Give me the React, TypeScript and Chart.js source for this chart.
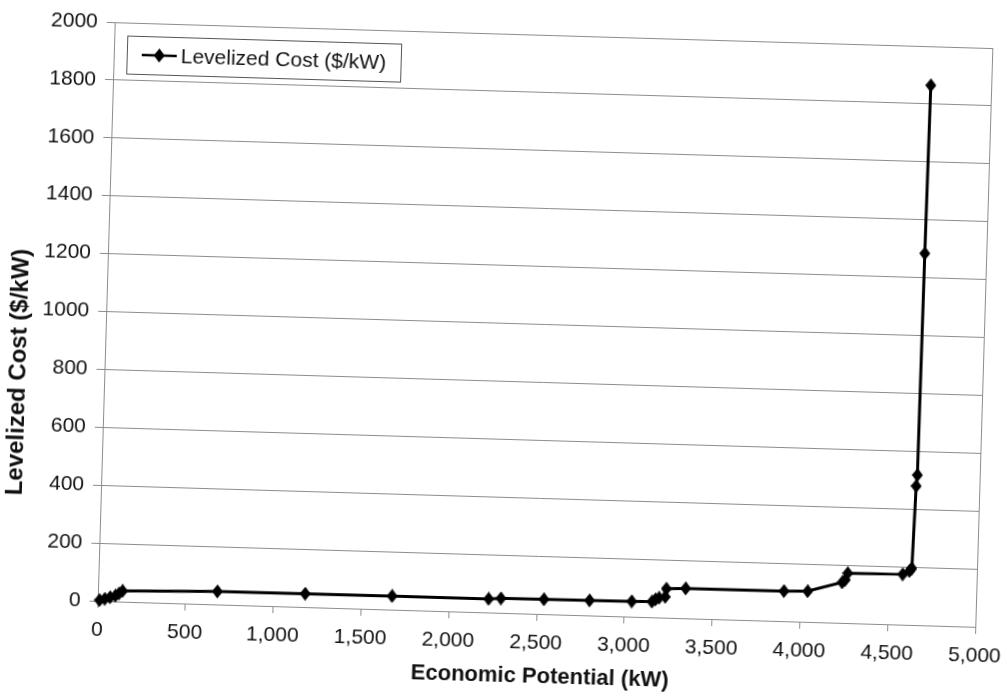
import React, { useEffect, useRef } from "react";
import { Chart, registerables } from "chart.js";

Chart.register(...registerables);

// ---- data ----
const seriesLabel = "Levelized Cost ($/kW)";
const potentialKW = [
  10, 40, 70, 100, 120, 140, 680, 1180, 1675, 2225, 2295, 2540, 2800, 3040,
  3155, 3175, 3195, 3230, 3235, 3345, 3905, 4040, 4235, 4252, 4265, 4578,
  4616, 4629, 4640, 4645, 4650, 4656,
];
const costPerKW = [
  3, 8, 14, 20, 28, 37, 45, 46, 47, 47, 50, 51, 52, 53,
  54, 62, 68, 72, 100, 103, 104, 106, 140, 149, 172, 174,
  186, 195, 480, 518, 1284, 1865,
];
const xTickValues = [0, 500, 1000, 1500, 2000, 2500, 3000, 3500, 4000, 4500, 5000];
const yTickValues = [0, 200, 400, 600, 800, 1000, 1200, 1400, 1600, 1800, 2000];
const xTitle = "Economic Potential (kW)";
const yTitle = "Levelized Cost ($/kW)";

// ---- styling ----
const FONT = "'Liberation Sans', Arial, sans-serif";
const GRID = "#8c8c8c";
const INK = "#111111";
const CANVAS_W = 1040;
const CANVAS_H = 696;

function makeDiamond(w: number, h: number): HTMLCanvasElement {
  const c = document.createElement("canvas");
  c.width = w;
  c.height = h;
  const g = c.getContext("2d")!;
  g.fillStyle = "#000";
  g.beginPath();
  g.moveTo(w / 2, 0);
  g.lineTo(w, h / 2);
  g.lineTo(w / 2, h);
  g.lineTo(0, h / 2);
  g.closePath();
  g.fill();
  return c;
}

export default function App() {
  const ref = useRef<HTMLCanvasElement | null>(null);

  useEffect(() => {
    if (!ref.current) return;
    const diamond = makeDiamond(11, 14);

    const decor = {
      id: "decor",
      afterDraw(chart: any) {
        const { ctx, chartArea: a } = chart;
        ctx.save();
        // right border of plot area
        ctx.strokeStyle = GRID;
        ctx.lineWidth = 1;
        ctx.beginPath();
        ctx.moveTo(Math.round(a.right) + 0.5, a.top);
        ctx.lineTo(Math.round(a.right) + 0.5, a.bottom);
        ctx.stroke();

        // legend box
        const bx = a.left + 13;
        const by = a.top + 13;
        const bw = 274;
        const bh = 38;
        ctx.fillStyle = "#fff";
        ctx.fillRect(bx, by, bw, bh);
        ctx.strokeStyle = "#555";
        ctx.lineWidth = 1;
        ctx.strokeRect(Math.round(bx) + 0.5, Math.round(by) + 0.5, bw, bh);
        const cy = by + bh / 2;
        ctx.strokeStyle = "#000";
        ctx.lineWidth = 2.5;
        ctx.beginPath();
        ctx.moveTo(bx + 15, cy);
        ctx.lineTo(bx + 50, cy);
        ctx.stroke();
        ctx.drawImage(diamond, bx + 32.5 - diamond.width / 2, cy - diamond.height / 2);
        ctx.fillStyle = INK;
        ctx.font = `21px ${FONT}`;
        ctx.textAlign = "left";
        ctx.textBaseline = "middle";
        ctx.fillText(chart.data.datasets[0].label, bx + 54, cy + 1);

        // axis titles
        ctx.font = `bold 22px ${FONT}`;
        ctx.textAlign = "center";
        ctx.textBaseline = "middle";
        ctx.fillText(xTitle, (a.left + a.right) / 2 + 5, a.bottom + 63);
        ctx.font = `bold 24px ${FONT}`;
        ctx.translate(20, (a.top + a.bottom) / 2 + 63);
        ctx.rotate(-Math.PI / 2);
        ctx.fillText(yTitle, 0, 0);
        ctx.restore();
      },
    };

    const chart = new Chart(ref.current, {
      type: "scatter",
      data: {
        datasets: [
          {
            label: seriesLabel,
            data: potentialKW.map((x, i) => ({ x, y: costPerKW[i] })),
            showLine: true,
            borderColor: "#000",
            backgroundColor: "#000",
            borderWidth: 3,
            tension: 0,
            pointStyle: diamond as any,
            pointRadius: 6,
            clip: false as any,
          },
        ],
      },
      options: {
        animation: false,
        responsive: false,
        maintainAspectRatio: false,
        layout: { padding: { top: 35, right: CANVAS_W - 984, left: 0, bottom: 0 } },
        plugins: {
          legend: { display: false },
          title: { display: false },
          tooltip: { enabled: false },
        },
        scales: {
          x: {
            type: "linear",
            min: 0,
            max: 5000,
            afterBuildTicks: (s: any) => {
              s.ticks = xTickValues.map((v) => ({ value: v }));
            },
            afterFit: (s: any) => {
              s.height = 82;
              s.paddingLeft = 0;
              s.paddingRight = 0;
            },
            grid: {
              drawOnChartArea: false,
              drawTicks: true,
              tickLength: 7,
              color: GRID,
            },
            border: { display: true, color: GRID, width: 1 },
            ticks: {
              autoSkip: false,
              maxRotation: 0,
              padding: 10,
              color: INK,
              font: { family: FONT, size: 21 },
              callback: (v: any) => Number(v).toLocaleString("en-US"),
            },
          },
          y: {
            type: "linear",
            min: 0,
            max: 2000,
            afterBuildTicks: (s: any) => {
              s.ticks = yTickValues.map((v) => ({ value: v }));
            },
            afterFit: (s: any) => {
              s.width = 106;
              s.paddingTop = 0;
              s.paddingBottom = 0;
            },
            grid: {
              drawOnChartArea: true,
              drawTicks: true,
              tickLength: 8,
              color: GRID,
              lineWidth: 1,
            },
            border: { display: true, color: GRID, width: 1 },
            ticks: {
              padding: 9,
              color: INK,
              font: { family: FONT, size: 21 },
              callback: (v: any) => String(v),
            },
          },
        },
      },
      plugins: [decor],
    });

    return () => chart.destroy();
  }, []);

  return (
    <div
      style={{
        position: "fixed",
        left: 0,
        top: 0,
        width: 1007,
        height: 696,
        overflow: "hidden",
        background: "#fff",
      }}
    >
      <canvas
        ref={ref}
        width={CANVAS_W}
        height={CANVAS_H}
        style={{
          display: "block",
          width: CANVAS_W,
          height: CANVAS_H,
          transform: "rotate(1.69deg)",
          transformOrigin: "545.1px 324.75px",
        }}
      />
    </div>
  );
}
